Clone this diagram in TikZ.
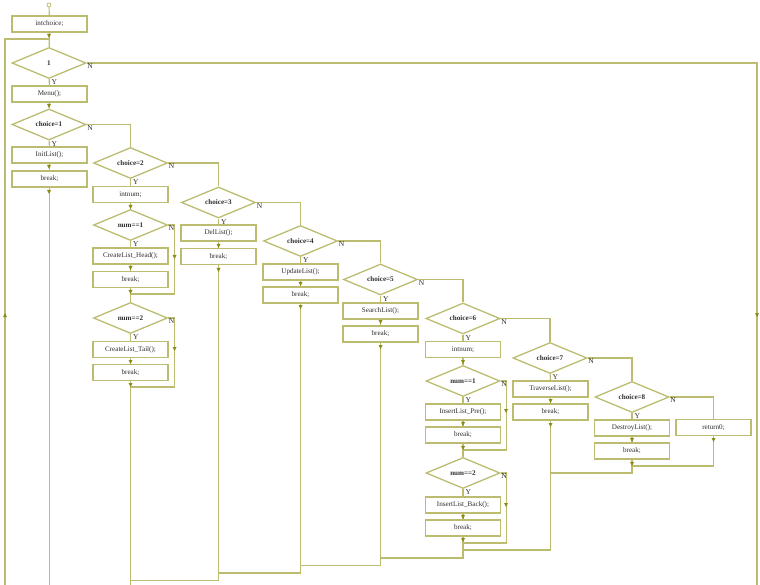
\documentclass[tikz,border=0pt]{standalone}
\usepackage{fontspec}
\setmainfont{Liberation Serif}
\usetikzlibrary{shapes.geometric,calc}
\definecolor{ln}{RGB}{188,188,112}
\definecolor{mkc}{RGB}{140,140,20}
\definecolor{tx}{RGB}{45,45,45}
\newcommand\mkdn[2]{\fill[mkc] (#1-2,#2-2) -- (#1+2,#2-2) -- (#1,#2+2) -- cycle;}
\newcommand\mkup[2]{\fill[mkc] (#1-2,#2+2) -- (#1+2,#2+2) -- (#1,#2-2) -- cycle;}
\begin{document}
\begin{tikzpicture}[x=1pt,y=-1pt,
  box/.style={draw=ln,line width=1.3pt,minimum width=75pt,minimum height=16pt,inner sep=0pt,text=tx,font=\fontsize{7.1}{8}\selectfont},
  dia/.style={draw=ln,line width=1.3pt,diamond,aspect=2.4,minimum width=74pt,minimum height=31pt,inner sep=0pt,text=tx,font=\bfseries\fontsize{7.1}{8}\selectfont},
  cl/.style={draw=ln,line width=1.15pt},
  lbl/.style={text=tx,inner sep=0pt,font=\fontsize{7.5}{8}\selectfont}]
\useasboundingbox (0,0) rectangle (760,585);
\clip (0,0) rectangle (760,585);
% nodes
\node[circle,draw=ln,line width=0.8pt,minimum size=4pt,inner sep=0pt] (st) at (49,5) {};
\node[box] (ic) at (49.5,24) {intchoice;};
\node[dia] (d1) at (49,63) {1};
\node[box] (menu) at (49.5,94) {Menu();};
\node[dia] (c1) at (49,124.5) {choice=1};
\node[box] (init) at (49.5,155) {InitList();};
\node[box] (b1) at (49.5,179) {break;};
\node[dia] (c2) at (130.5,163) {choice=2};
\node[box] (in2) at (130.5,194.5) {intnum;};
\node[dia] (n1) at (130.5,225) {num==1};
\node[box] (head) at (130.5,256) {CreateList\_Head();};
\node[box] (bh) at (130.5,279.5) {break;};
\node[dia] (n2) at (130.5,318) {num==2};
\node[box] (tail) at (130.5,349.5) {CreateList\_Tail();};
\node[box] (bt) at (130.5,372.5) {break;};
\node[dia] (c3) at (218.5,202.5) {choice=3};
\node[box] (del) at (218.5,233) {DelList();};
\node[box] (b3) at (218.5,256.5) {break;};
\node[dia] (c4) at (300.5,241) {choice=4};
\node[box] (upd) at (300.5,272) {UpdateList();};
\node[box] (b4) at (300.5,295) {break;};
\node[dia] (c5) at (380.5,279.5) {choice=5};
\node[box] (srch) at (380.5,311) {SearchList();};
\node[box] (b5) at (380.5,334) {break;};
\node[dia] (c6) at (463,318.5) {choice=6};
\node[box] (in6) at (463,349.5) {intnum;};
\node[dia] (m1) at (463,381) {num==1};
\node[box] (pre) at (463,412) {InsertList\_Pre();};
\node[box] (bp) at (463,435) {break;};
\node[dia] (m2) at (463,473) {num==2};
\node[box] (back) at (463,505) {InsertList\_Back();};
\node[box] (bb) at (463,528) {break;};
\node[dia] (c7) at (550,358) {choice=7};
\node[box] (trav) at (550.5,389) {TraverseList();};
\node[box] (b7) at (550.5,412) {break;};
\node[dia] (c8) at (632,397) {choice=8};
\node[box] (dest) at (632,428) {DestroyList();};
\node[box] (b8) at (632,451) {break;};
\node[box] (ret) at (713.5,427.5) {return0;};
% coordinates
\coordinate (lb) at (5,585);
\coordinate (lt) at (5,39);
\coordinate (rb) at (757,585);
% connectors
\draw[cl] (st) -- (ic);
\draw[cl] (ic) -- (d1);
\draw[cl] (lb) -- (lt) -- (lt-|d1.north);
\draw[cl] (d1.east) -- (d1.east-|rb) -- (rb);
\draw[cl] (d1) -- (menu);
\draw[cl] (menu) -- (c1);
\draw[cl] (c1) -- (init);
\draw[cl] (init) -- (b1);
\draw[cl] (b1.south) -- (b1.south|-lb);
\draw[cl] (c1.east) -| (c2.north);
\draw[cl] (c2) -- (in2);
\draw[cl] (in2) -- (n1);
\draw[cl] (n1) -- (head);
\draw[cl] (head) -- (bh);
\draw[cl] (bh) -- (n2);
\draw[cl] (n1.east) -- ++(6,0) coordinate (n1r) -- (n1r|-0,294) -- (n1.south|-0,294);
\draw[cl] (n2) -- (tail);
\draw[cl] (tail) -- (bt);
\draw[cl] (n2.east) -- ++(6,0) coordinate (n2r) -- (n2r|-0,387) -- (n2.south|-0,387);
\draw[cl] (bt.south) -- (bt.south|-lb);
\draw[cl] (c2.east) -| (c3.north);
\draw[cl] (c3) -- (del);
\draw[cl] (del) -- (b3);
\draw[cl] (b3.south) -- (b3.south|-0,580.7) -- (bt.south|-0,580.7);
\draw[cl] (c3.east) -| (c4.north);
\draw[cl] (c4) -- (upd);
\draw[cl] (upd) -- (b4);
\draw[cl] (b4.south) -- (b4.south|-0,573) -- (b3.south|-0,573);
\draw[cl] (c4.east) -| (c5.north);
\draw[cl] (c5) -- (srch);
\draw[cl] (srch) -- (b5);
\draw[cl] (b5.south) -- (b5.south|-0,565.6) -- (b4.south|-0,565.6);
\draw[cl] (c5.east) -| (c6.north);
\draw[cl] (c6) -- (in6);
\draw[cl] (in6) -- (m1);
\draw[cl] (m1) -- (pre);
\draw[cl] (pre) -- (bp);
\draw[cl] (bp) -- (m2);
\draw[cl] (m1.east) -- ++(6,0) coordinate (m1r) -- (m1r|-0,450) -- (m1.south|-0,450);
\draw[cl] (m2) -- (back);
\draw[cl] (back) -- (bb);
\draw[cl] (m2.east) -- ++(6,0) coordinate (m2r) -- (m2r|-0,543) -- (m2.south|-0,543);
\draw[cl] (bb.south) -- (bb.south|-0,558) -- (b5.south|-0,558);
\draw[cl] (c6.east) -| (c7.north);
\draw[cl] (c7) -- (trav);
\draw[cl] (trav) -- (b7);
\draw[cl] (b7.south) -- (b7.south|-0,550) -- (bb.south|-0,550);
\draw[cl] (c7.east) -| (c8.north);
\draw[cl] (c8) -- (dest);
\draw[cl] (dest) -- (b8);
\draw[cl] (b8.south) -- (b8.south|-0,473) -- (b7.south|-0,473);
\draw[cl] (c8.east) -| (ret.north);
\draw[cl] (ret.south) -- (ret.south|-0,466) -- (b8.south|-0,466);
% Y / N labels
\foreach \d in {d1,c1,c2,n1,n2,c3,c4,c5,c6,m1,m2,c7,c8}{
  \node[lbl,anchor=north west] at ($(\d.south)+(2.5,0.5)$) {Y};
  \node[lbl,anchor=north west] at ($(\d.east)+(0.5,0.5)$) {N};
}
% flow marks
\mkdn{49}{36} \mkdn{49}{106} \mkdn{49}{167} \mkdn{49}{192}
\mkup{5}{315} \mkdn{757}{315}
\mkdn{130.5}{207} \mkdn{130.5}{268} \mkdn{130.5}{292} \mkdn{174.5}{257}
\mkdn{130.5}{362} \mkdn{130.5}{385} \mkdn{174.5}{349}
\mkdn{218.5}{246} \mkdn{218.5}{270} \mkdn{300.5}{284} \mkdn{300.5}{307}
\mkdn{380.5}{322} \mkdn{380.5}{347}
\mkdn{463}{362} \mkdn{463}{424} \mkdn{463}{448} \mkdn{506}{411}
\mkdn{463}{517} \mkdn{463}{540} \mkdn{506}{505}
\mkdn{550.5}{401} \mkdn{550.5}{425} \mkdn{632}{440} \mkdn{632}{464} \mkdn{713.5}{440}
\end{tikzpicture}
\end{document}
